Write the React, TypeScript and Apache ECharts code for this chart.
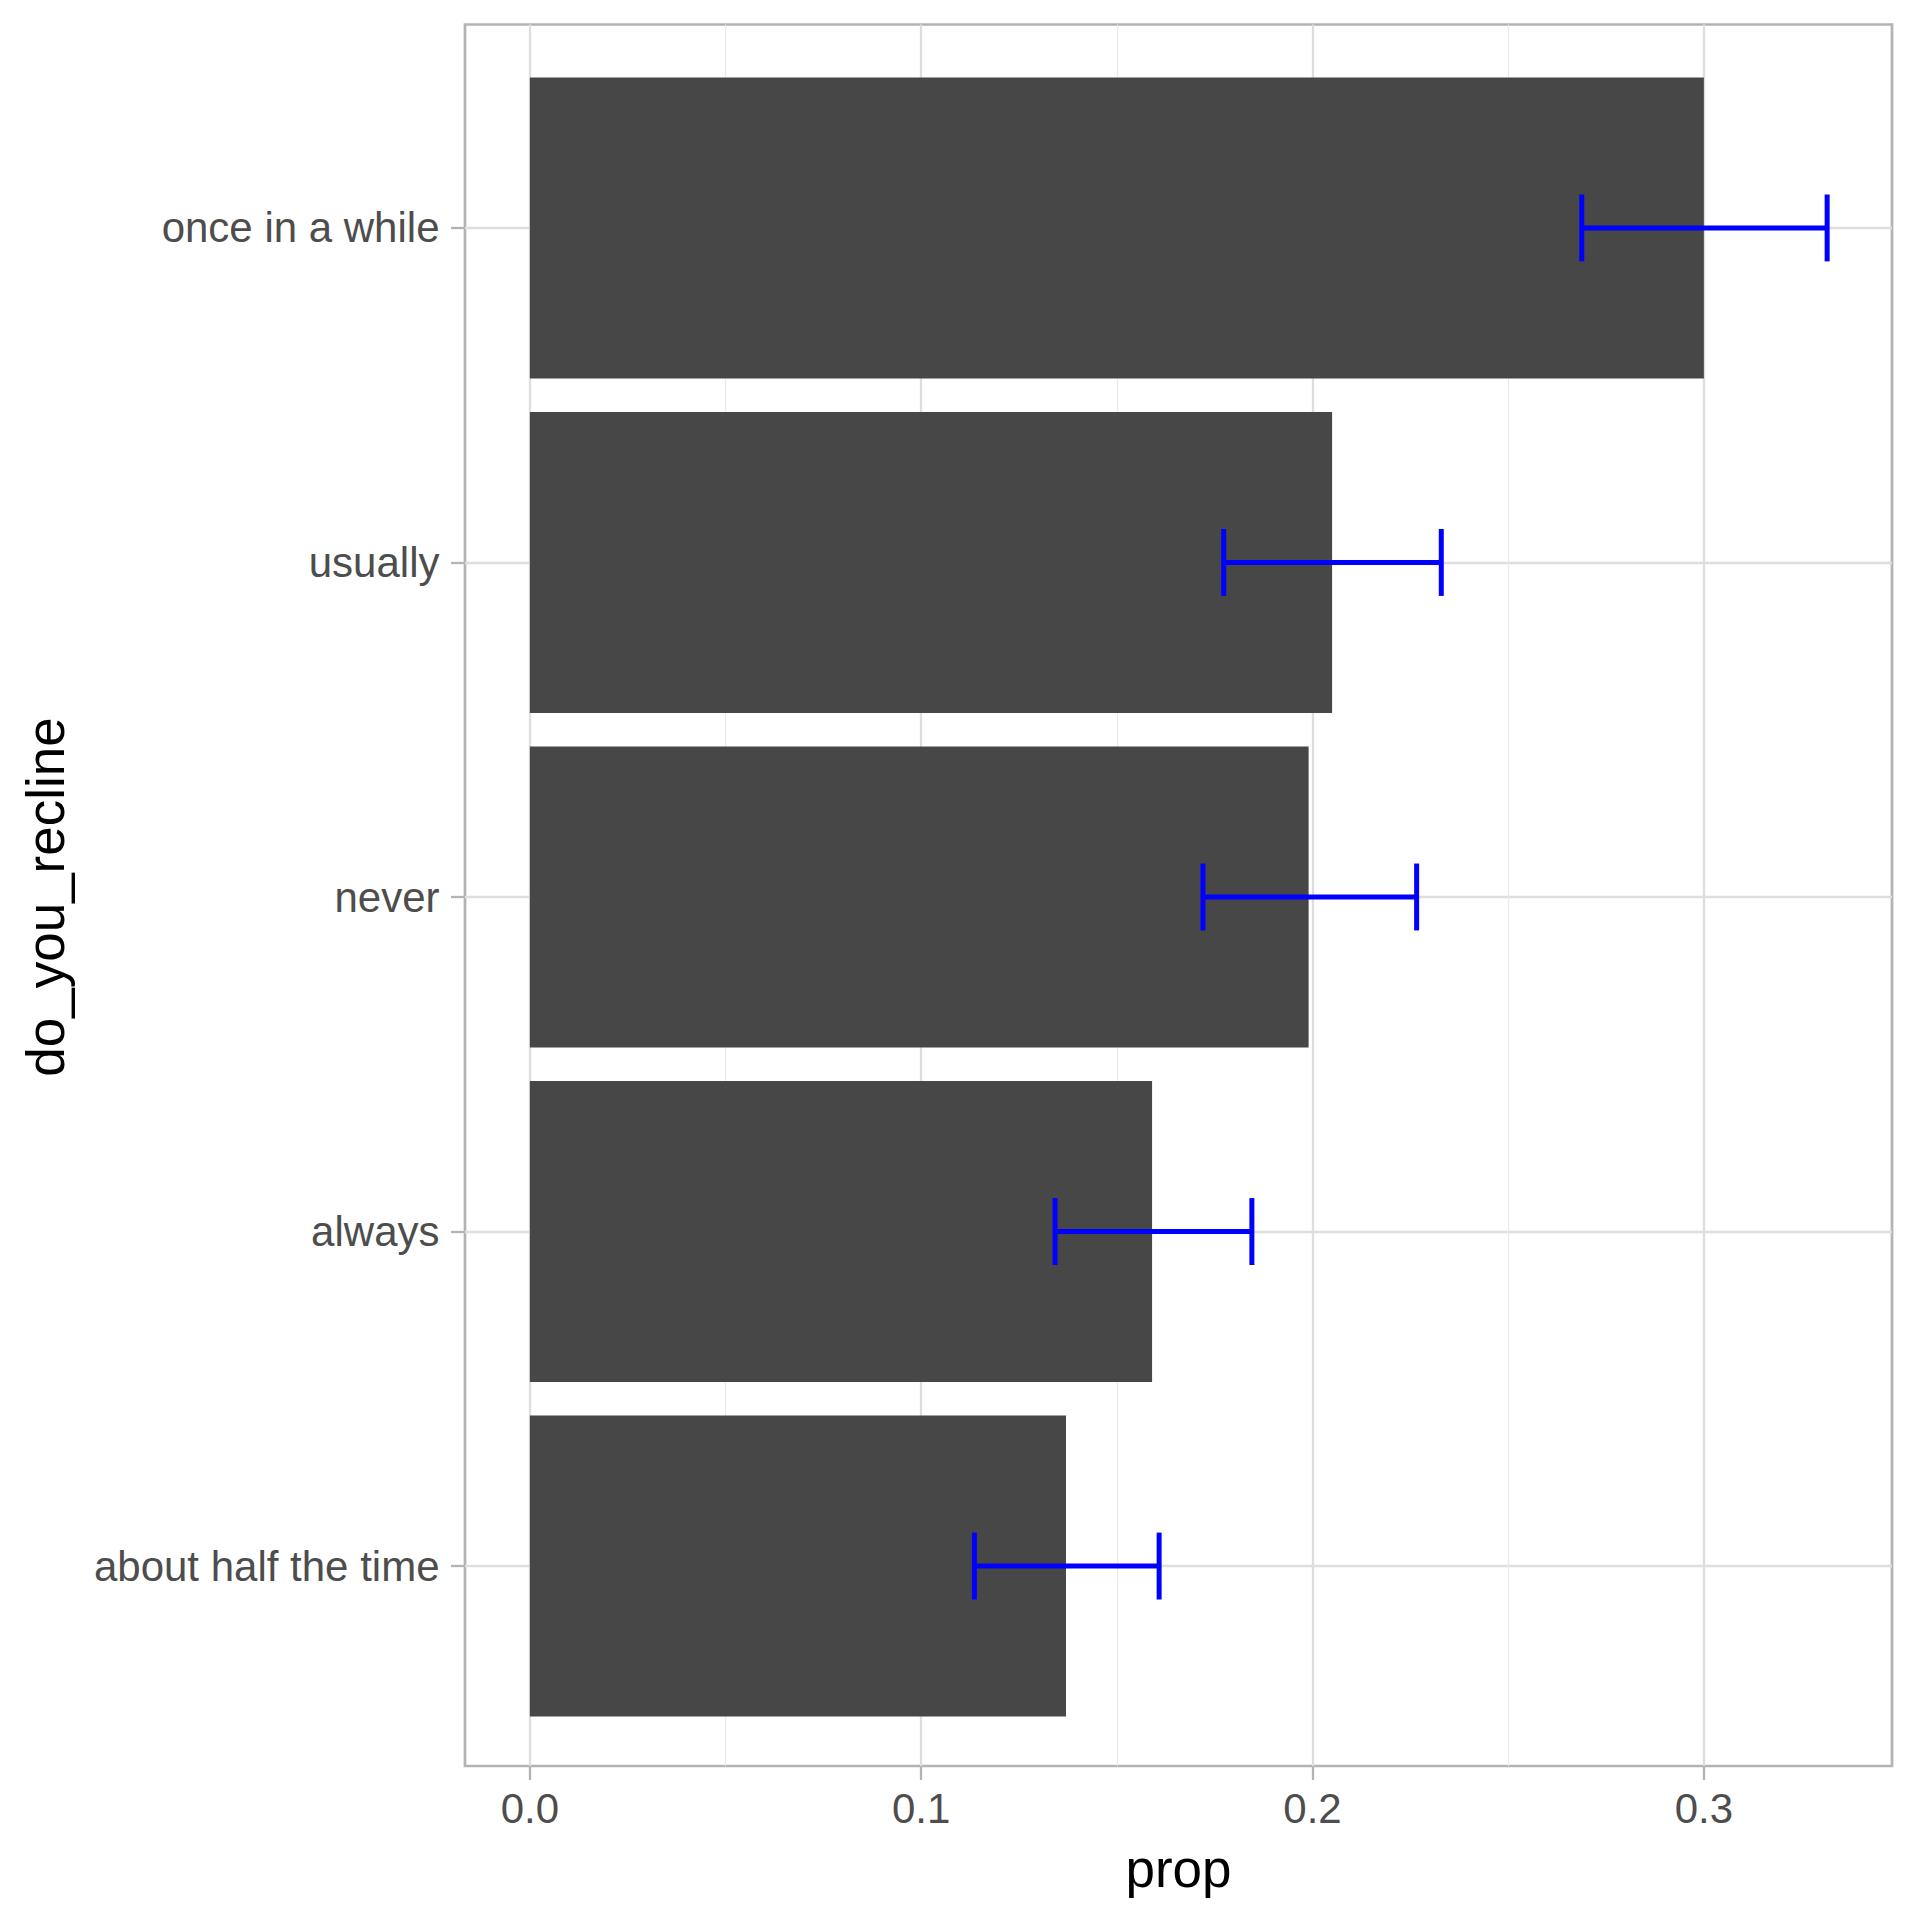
import React, { useEffect, useRef } from "react";
import * as echarts from "echarts";

// Data (bottom to top, as the category axis draws them)
const CATEGORIES = ["about half the time", "always", "never", "usually", "once in a while"];
const PROPS = [0.137, 0.159, 0.199, 0.205, 0.3];
const LOWER = [0.1136, 0.1342, 0.172, 0.1773, 0.2688];
const UPPER = [0.1608, 0.1845, 0.2266, 0.2329, 0.3315];
const X_TICKS = [0, 0.1, 0.2, 0.3];

const X_TITLE = "prop";
const Y_TITLE = "do_you_recline";

// Layout
const W = 1920;
const H = 1920;
const PANEL = { left: 465, right: 28, top: 24.5, bottom: 154 };
const FONT = "'Liberation Sans', Arial, Helvetica, sans-serif";

export default function App() {
  const ref = useRef<HTMLDivElement>(null);

  useEffect(() => {
    if (!ref.current) return;
    const chart = echarts.init(ref.current, null, { renderer: "svg" });

    // ggplot-style expansion
    const dataMax = Math.max(...UPPER);
    const xMin = -0.05 * dataMax;
    const xMax = dataMax * 1.05;
    const pw = W - PANEL.left - PANEL.right;
    const ph = H - PANEL.top - PANEL.bottom;
    const pxPerUnitX = pw / (xMax - xMin);
    const x0Left = PANEL.left + (0 - xMin) * pxPerUnitX;
    const xTLast = X_TICKS[X_TICKS.length - 1];
    const x3Right = W - (PANEL.left + (xTLast - xMin) * pxPerUnitX);
    const n = CATEGORIES.length;
    const unitY = ph / (n - 1 + 1.2);

    const grey70 = "#B3B3B3";
    const grey87 = "#DEDEDE";

    const option: any = {
      animation: false,
      backgroundColor: "#FFFFFF",
      textStyle: { fontFamily: FONT },
      grid: [
        {
          left: PANEL.left,
          right: PANEL.right,
          top: PANEL.top,
          bottom: PANEL.bottom,
          show: true,
          borderColor: grey70,
          borderWidth: 2.7,
          backgroundColor: "transparent",
        },
        {
          left: x0Left,
          right: x3Right,
          top: PANEL.top,
          bottom: PANEL.bottom,
        },
        {
          left: PANEL.left,
          right: PANEL.right,
          top: PANEL.top + 0.6 * unitY + 2.5,
          bottom: PANEL.bottom + 0.6 * unitY - 1,
        },
      ],
      xAxis: [
        {
          gridIndex: 0,
          type: "value",
          min: xMin,
          max: xMax,
          name: X_TITLE,
          nameLocation: "middle",
          nameGap: 76,
          nameTextStyle: { fontSize: 53, color: "#000000", fontFamily: FONT },
          axisLine: { show: false, onZero: false },
          axisTick: { show: false },
          axisLabel: { show: false },
          splitLine: { show: false },
        },
        {
          gridIndex: 1,
          type: "value",
          min: X_TICKS[0],
          max: xTLast,
          interval: 0.1,
          axisLine: { show: false, onZero: false },
          axisTick: { show: true, length: 14, lineStyle: { color: grey70, width: 2.3 } },
          axisLabel: {
            show: true,
            fontSize: 42,
            color: "#4D4D4D",
            margin: 21,
            fontFamily: FONT,
            formatter: (v: number) => v.toFixed(1),
          },
          splitLine: { show: true, lineStyle: { color: grey87, width: 2.3 } },
          minorTick: { show: false, splitNumber: 2 },
          minorSplitLine: { show: true, lineStyle: { color: "#EBEBEB", width: 1.2 } },
        },
        {
          gridIndex: 2,
          type: "value",
          min: xMin,
          max: xMax,
          show: false,
          axisLine: { onZero: false },
        },
      ],
      yAxis: [
        { gridIndex: 0, type: "value", show: false, axisLine: { onZero: false } },
        { gridIndex: 1, type: "value", show: false, axisLine: { onZero: false } },
        {
          gridIndex: 2,
          type: "category",
          data: CATEGORIES,
          boundaryGap: false,
          name: Y_TITLE,
          nameLocation: "middle",
          nameGap: 393,
          nameTextStyle: { fontSize: 53, color: "#000000", fontFamily: FONT },
          axisLine: { show: false, onZero: false },
          axisTick: { show: true, length: 14, lineStyle: { color: grey70, width: 2.3 } },
          axisLabel: { show: true, fontSize: 42, color: "#4D4D4D", margin: 25.5, fontFamily: FONT, interval: 0 },
          splitLine: { show: true, interval: 0, lineStyle: { color: grey87, width: 2.3 } },
        },
      ],
      series: [
        {
          type: "custom",
          name: "prop",
          xAxisIndex: 2,
          yAxisIndex: 2,
          clip: false,
          z: 2,
          data: CATEGORIES.map((_, i) => [PROPS[i], i]),
          encode: { x: 0, y: 1 },
          renderItem: (params: any, api: any) => {
            const start = api.coord([0, api.value(1)]);
            const end = api.coord([api.value(0), api.value(1)]);
            const h = api.size([0, 1])[1] * 0.9;
            return {
              type: "rect",
              shape: { x: start[0], y: start[1] - h / 2, width: end[0] - start[0], height: h },
              style: { fill: "#474747" },
            };
          },
        },
        {
          type: "custom",
          name: "ci",
          xAxisIndex: 2,
          yAxisIndex: 2,
          clip: false,
          z: 3,
          data: CATEGORIES.map((_, i) => [LOWER[i], UPPER[i], i]),
          encode: { x: [0, 1], y: 2 },
          renderItem: (params: any, api: any) => {
            const lo = api.coord([api.value(0), api.value(2)]);
            const hi = api.coord([api.value(1), api.value(2)]);
            const h = api.size([0, 1])[1] * 0.1;
            const style = { stroke: "#0000FF", lineWidth: 5, fill: "none" };
            return {
              type: "group",
              children: [
                { type: "line", shape: { x1: lo[0], y1: lo[1], x2: hi[0], y2: hi[1] }, style },
                { type: "line", shape: { x1: lo[0], y1: lo[1] - h, x2: lo[0], y2: lo[1] + h }, style },
                { type: "line", shape: { x1: hi[0], y1: hi[1] - h, x2: hi[0], y2: hi[1] + h }, style },
              ],
            };
          },
        },
      ],
    };

    chart.setOption(option);
    return () => chart.dispose();
  }, []);

  return (
    <div
      ref={ref}
      style={{ position: "absolute", left: 0, top: 0, width: W, height: H, background: "#FFFFFF" }}
    />
  );
}
